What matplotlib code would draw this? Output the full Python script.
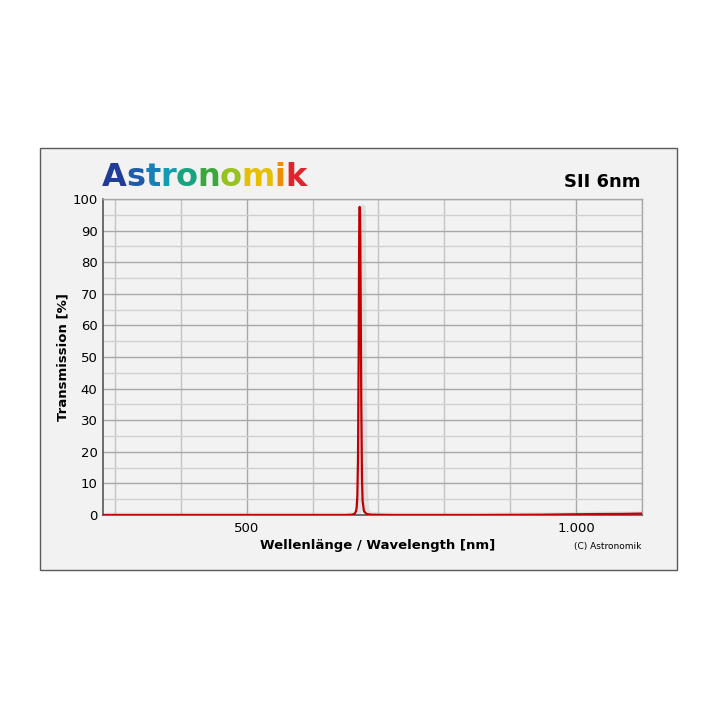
import matplotlib
matplotlib.use('Agg')
import matplotlib.pyplot as plt
from matplotlib.patches import Rectangle

# Transmission curve of the SII 6nm filter
wavelength = [280, 600, 650, 660, 664, 666, 667, 668, 669, 670, 670.5, 671, 671.5, 672,
              672.5, 673, 674, 675, 676, 678, 682, 690, 720, 850, 950, 990, 1030, 1070, 1100]
transmission = [0.0, 0.0, 0.0, 0.1, 0.4, 1.2, 2.5, 6.0, 18.0, 50.0, 78.0, 94.0, 97.5, 96.0,
                88.0, 70.0, 35.0, 12.0, 4.5, 1.2, 0.3, 0.1, 0.0, 0.0, 0.1, 0.2, 0.3, 0.35, 0.45]

x_ticks = [500, 1000]
x_tick_labels = ['500', '1.000']
y_ticks = list(range(0, 101, 10))
x_grid = list(range(300, 1101, 100))

logo_text = 'Astronomik'
logo_colors = ['#1f3c96', '#1c5ca8', '#1681b8', '#139bb0', '#17a37e', '#3aa83c',
               '#96c21e', '#e6c000', '#f08c00', '#e0242c']

plt.rcParams['font.family'] = ['DejaVu Sans']

fig = plt.figure(figsize=(7.2, 7.2), dpi=100)
fig.patch.set_facecolor('white')

# grey panel with frame
fig.patches.append(Rectangle((40 / 720, 150 / 720), 637 / 720, 422 / 720,
                             transform=fig.transFigure, facecolor='#f2f2f2',
                             edgecolor='#5a5a5a', linewidth=1.0, zorder=-5))

ax = fig.add_axes([103 / 720, 205 / 720, 539 / 720, 316 / 720])
ax.set_zorder(2)
ax.set_facecolor('#f2f2f2')
ax.set_xlim(282, 1100)
ax.set_ylim(0, 100)

# grid
for gx in x_grid:
    c = '#a8a8a8' if gx in x_ticks else '#c4c4c4'
    ax.axvline(gx, color=c, lw=1.0, zorder=1)
for gy in range(5, 100, 10):
    ax.axhline(gy, color='#cfcfcf', lw=1.0, zorder=1)
for gy in range(10, 101, 10):
    ax.axhline(gy, color='#a8a8a8', lw=1.0, zorder=1)

# soft shadow behind the peak
ax.plot([w + 5 for w in wavelength], transmission, color='#b8b8b8', lw=3.5, alpha=0.3,
        zorder=2, solid_capstyle='butt')
ax.plot(wavelength, transmission, color='#c00000', lw=1.6, zorder=3)

ax.set_xticks(x_ticks)
ax.set_xticklabels(x_tick_labels)
ax.set_yticks(y_ticks)
ax.tick_params(axis='both', length=0, labelsize=9.5, colors='black')
ax.tick_params(axis='x', pad=5)
ax.tick_params(axis='y', pad=4)

for side in ['left', 'bottom']:
    ax.spines[side].set_color('#555555')
    ax.spines[side].set_linewidth(1.2)
for side in ['top', 'right']:
    ax.spines[side].set_color('#a8a8a8')
    ax.spines[side].set_linewidth(1.0)

ax.set_ylabel('Transmission [%]', fontsize=9.5, fontweight='bold', labelpad=2)
fig.text(378 / 720, 1 - 546 / 720, 'Wellenlänge / Wavelength [nm]', fontsize=9.5,
         fontweight='bold', ha='center', va='center')
fig.text(641 / 720, 1 - 546 / 720, '(C) Astronomik', fontsize=6.5, ha='right', va='center')

fig.text(641 / 720, 1 - 182 / 720, 'SII 6nm', fontsize=13, fontweight='bold',
         ha='right', va='center')

# rainbow logo, one letter at a time
renderer = fig.canvas.get_renderer()
x0 = 102 / 720
for ch, col in zip(logo_text, logo_colors):
    t = fig.text(x0, 1 - 178 / 720, ch, fontsize=23, fontweight='heavy', color=col,
                 ha='left', va='center')
    bb = t.get_window_extent(renderer=renderer)
    x0 += bb.width / fig.bbox.width - 0.3 / 720

fig.savefig('out.png', dpi=100, facecolor='white')
